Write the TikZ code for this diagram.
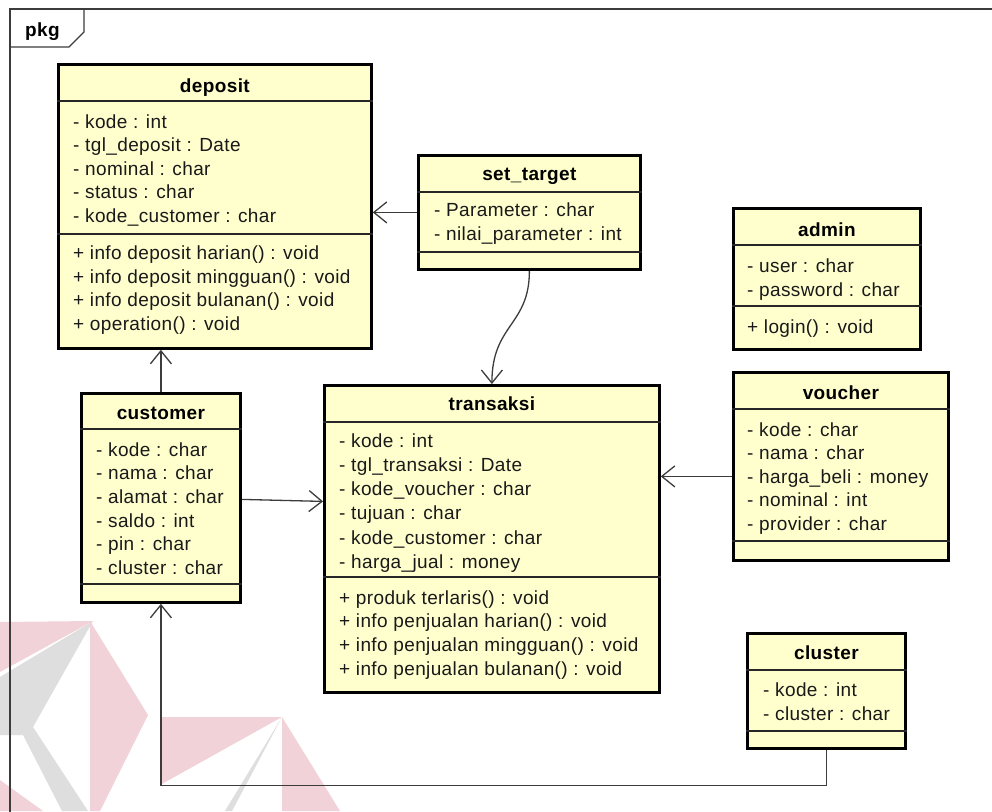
\documentclass[tikz,border=0pt]{standalone}
\usepackage{fontspec}
\setmainfont[LetterSpace=2]{Liberation Sans}
\usetikzlibrary{arrows.meta}

\definecolor{umlfill}{RGB}{255,255,206}
\definecolor{edgegray}{RGB}{60,60,60}
\definecolor{markred}{RGB}{241,210,216}
\definecolor{markgray}{RGB}{222,222,222}

% one row of members per list entry, nodes named <prefix>1, <prefix>2, ...
\newcommand\memberrows[5]{%
  \foreach \t [count=\i] in {#5}{\node[member] (#1\i) at (#2,{#3+#4*(\i-1)}) {\t};}}
% the two compartment lines of a class box
\newcommand\compartments[3]{%
  \draw[sepline] (#1.west |- 0,#2) -- (#1.east |- 0,#2);
  \draw[sepline] (#1.west |- 0,#3) -- (#1.east |- 0,#3);}

\tikzset{
  classbox/.style={draw=black, line width=2.8pt, fill=umlfill, inner sep=0pt,
    anchor=north west, rectangle},
  sepline/.style={draw=black!85, line width=1.4pt},
  member/.style={anchor=base west, inner sep=0pt, text=black!90,
    font=\fontsize{19}{23}\selectfont},
  classtitle/.style={anchor=base, inner sep=0pt, text=black,
    font=\fontsize{19}{23}\selectfont\bfseries},
  assoc/.style={draw=edgegray, line width=1.3pt,
    -{Straight Barb[length=13pt,width=21pt,line width=1.3pt]}},
  framepen/.style={draw=edgegray, line width=1.3pt},
}

\begin{document}
\begin{tikzpicture}[x=1pt,y=-1pt]
\useasboundingbox (0,0) rectangle (992,811);
\clip (0,0) rectangle (992,811);
\fill[white] (0,0) rectangle (992,811);

% faint logo in the lower left corner
\fill[markred] (0,622) -- (93,621) -- (0,672) -- cycle;
\fill[markgray] (0,677) -- (93,621) -- (33,727) -- (88,811) -- (62,811)
  -- (23,735) -- (0,735) -- cycle;
\fill[markred] (90,621) -- (148,715) -- (100,811) -- (90,811) -- cycle;
\fill[markred] (0,780) -- (0,811) -- (43,811) -- cycle;
\fill[markred] (160,717) -- (282,717) -- (160,785) -- cycle;
\fill[markgray] (282,717) -- (232,811) -- (225,811) -- cycle;
\fill[markred] (282,717) -- (340,811) -- (282,811) -- cycle;

% package frame with its name tab
\draw[framepen] (1000,9) -- (10,9) -- (10,820);
\draw[framepen] (10,47) -- (69,47) -- (84,32) -- (84,9);
\node[anchor=base west, inner sep=0pt, font=\fontsize{19}{23}\selectfont\bfseries] (pkgname) at (25,36) {pkg};

% classes
\node[classbox, minimum width=313pt, minimum height=284pt] (deposit) at (57,63) {};
\node[classbox, minimum width=222pt, minimum height=114pt] (settarget) at (417,154) {};
\node[classbox, minimum width=187pt, minimum height=141pt] (admin) at (732,207) {};
\node[classbox, minimum width=215pt, minimum height=188pt] (voucher) at (732,371) {};
\node[classbox, minimum width=159pt, minimum height=209pt] (customer) at (80,392) {};
\node[classbox, minimum width=335pt, minimum height=307pt] (transaksi) at (323,384) {};
\node[classbox, minimum width=158pt, minimum height=115pt] (cluster) at (746,632) {};

\compartments{deposit}{101}{234}
\compartments{settarget}{192}{252}
\compartments{admin}{245}{306}
\compartments{voucher}{409}{541}
\compartments{customer}{429}{584}
\compartments{transaksi}{422}{577}
\compartments{cluster}{670}{731}

% class names
\node[classtitle] (deposit-t) at (deposit.north |- 0,92) {deposit};
\node[classtitle] (settarget-t) at (settarget.north |- 0,180) {set\_target};
\node[classtitle] (admin-t) at (admin.north |- 0,236) {admin};
\node[classtitle] (voucher-t) at (voucher.north |- 0,399) {voucher};
\node[classtitle] (customer-t) at (customer.north |- 0,419) {customer};
\node[classtitle] (transaksi-t) at (transaksi.north |- 0,410) {transaksi};
\node[classtitle] (cluster-t) at (cluster.north |- 0,659) {cluster};

% attributes and operations
\memberrows{deposit-a}{73}{128}{23.6}{- kode : int, - tgl\_deposit : Date, - nominal : char, - status : char, - kode\_customer : char}
\memberrows{deposit-o}{73}{259.5}{23.6}{+ info deposit harian() : void, + info deposit mingguan() : void, + info deposit bulanan() : void, + operation() : void}
\memberrows{settarget-a}{434}{216.5}{23.8}{- Parameter : char, - nilai\_parameter : int}
\memberrows{admin-a}{747}{272.5}{23.8}{- user : char, - password : char}
\memberrows{admin-o}{747}{333}{23.6}{+ login() : void}
\memberrows{voucher-a}{747}{436}{23.6}{- kode : char, - nama : char, - harga\_beli : money, - nominal : int, - provider : char}
\memberrows{customer-a}{96}{456}{23.7}{- kode : char, - nama : char, - alamat : char, - saldo : int, - pin : char, - cluster : char}
\memberrows{transaksi-a}{339}{447.3}{24.2}{- kode : int, - tgl\_transaksi : Date, - kode\_voucher : char, - tujuan : char, - kode\_customer : char, - harga\_jual : money}
\memberrows{transaksi-o}{339}{604.3}{23.6}{+ produk terlaris() : void, + info penjualan harian() : void, + info penjualan mingguan() : void, + info penjualan bulanan() : void}
\memberrows{cluster-a}{763}{696}{24.5}{- kode : int, - cluster : char}

% associations
\draw[assoc] (settarget.west) -- (settarget.west -| deposit.east);
\draw[assoc] (settarget.south) .. controls +(0,55) and +(0,-60) .. (transaksi.north);
\draw[assoc] (customer.north) -- (customer.north |- deposit.south);
\draw[assoc] ([yshift=-1.5pt]customer.east) -- ([yshift=-3.5pt]customer.east -| transaksi.west);
\draw[assoc] ([yshift=-10pt]voucher.west) -- ([yshift=-10pt]voucher.west -| transaksi.east);
\draw[assoc] (cluster.south) -- ++(0,36) -| (customer.south);
\end{tikzpicture}
\end{document}
